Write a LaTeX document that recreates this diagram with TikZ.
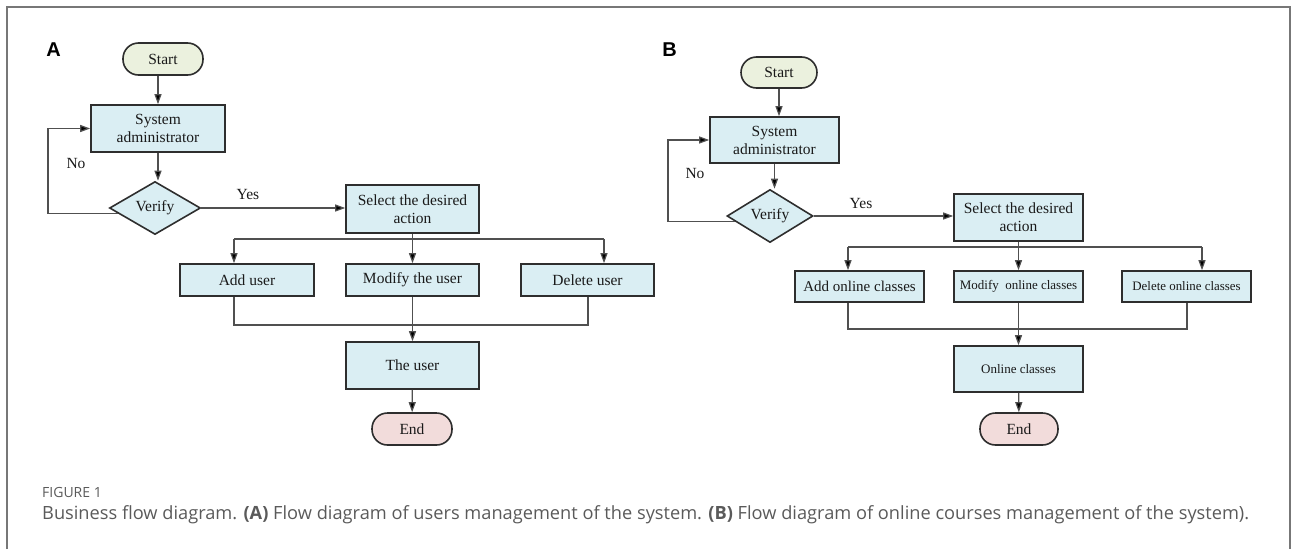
\documentclass[tikz,border=0pt]{standalone}
\usepackage{fontspec}
\setmainfont{Liberation Serif}
\newfontfamily\capfont{Open Sans}
\newfontfamily\lblfont{Liberation Sans}
\usetikzlibrary{arrows.meta,shapes.geometric,calc}
\definecolor{boxfill}{HTML}{DAEEF3}
\definecolor{startfill}{HTML}{EBF1DE}
\definecolor{endfill}{HTML}{F2DCDB}
\definecolor{edge}{HTML}{2E2E2E}
\definecolor{wire}{HTML}{505050}
\definecolor{capgray}{HTML}{5A5A5A}
\definecolor{framegray}{HTML}{777777}
\tikzset{
  base/.style={draw=edge, line width=1.6pt, inner sep=0pt, text=black!90,
    font=\fontsize{15.5}{18}\selectfont, align=center},
  procbox/.style={base, rectangle, fill=boxfill},
  termbox/.style={base, rectangle, rounded corners=15.5pt, minimum width=80pt, minimum height=32pt},
  decbox/.style={base, diamond, fill=boxfill},
  wireline/.style={draw=wire, line width=1.2pt},
  conn/.style={wireline, -{Triangle[length=10pt,width=7pt,fill=black]}},
  lbl/.style={font=\fontsize{15.5}{18}\selectfont, text=black!90, inner sep=0pt},
  panel/.style={font=\lblfont\bfseries\fontsize{20}{20}\selectfont, inner sep=0pt},
}
\begin{document}
\begin{tikzpicture}[x=1pt,y=-1pt]
\useasboundingbox (0,0) rectangle (1293,549);
\draw[framegray, line width=1.2pt] (7,549) -- (7,7) -- (1290,7) -- (1290,549);

% ---------- Panel A ----------
\node[panel] (pA) at (53.5,49.5) {A};
\node[termbox, fill=startfill] (startA) at (163,59) {Start};
\node[procbox, minimum width=134pt, minimum height=47pt] (adminA) at (158,128.5) {System\\administrator};
\node[decbox, minimum width=91pt, minimum height=47pt] (verifyA) at (155,208) {Verify};
\node[procbox, minimum width=133pt, minimum height=48pt] (selectA) at (412.5,209) {Select the desired\\action};
\node[procbox, minimum width=134pt, minimum height=32pt] (addA) at (247,280) {Add user};
\node[procbox, minimum width=133pt, minimum height=32pt] (modA) at (412.5,280) {Modify the user};
\node[procbox, minimum width=133pt, minimum height=32pt] (delA) at (587.5,280) {Delete user};
\node[procbox, minimum width=133pt, minimum height=47pt] (userA) at (412.5,365.5) {The user};
\node[termbox, fill=endfill] (endA) at (412,429) {End};
\node[lbl] (yesA) at (248,194) {Yes};
\node[lbl] (noA) at (76,163) {No};

\coordinate (loopA) at (48,128.5);
\coordinate (brAl) at (234,239);
\coordinate (brAr) at (604,239);
\coordinate (mgAl) at (234,325);
\coordinate (mgAr) at (588,325);

\draw[conn] (adminA.north |- startA.south) -- (adminA.north);
\draw[conn] (adminA.south) -- (adminA.south |- verifyA.north);
\draw[conn] (verifyA.east) -- (verifyA.east -| selectA.west);
\draw[conn] ($(verifyA.west)!0.2!(verifyA.south)$) -| (loopA) -- (adminA.west);
\draw[wireline] (brAl) -- (brAr);
\draw[conn] (selectA) -- (modA);
\draw[conn] (brAl) -- (brAl |- addA.north);
\draw[conn] (brAr) -- (brAr |- delA.north);
\draw[wireline] (mgAl |- addA.south) -- (mgAl) -- (mgAr) -- (mgAr |- delA.south);
\draw[conn] (modA) -- (userA);
\draw[conn] (userA) -- (endA);

% ---------- Panel B ----------
\node[panel] (pB) at (669.5,49.5) {B};
\node[termbox, fill=startfill, minimum width=76pt, minimum height=31pt] (startB) at (779,72.5) {Start};
\node[procbox, minimum width=129pt, minimum height=46pt] (adminB) at (774.5,140) {System\\administrator};
\node[decbox, minimum width=86pt, minimum height=46pt] (verifyB) at (770,216) {Verify};
\node[procbox, minimum width=129pt, minimum height=47pt] (selectB) at (1018.5,217.5) {Select the desired\\action};
\node[procbox, minimum width=129pt, minimum height=31pt, font=\fontsize{15}{18}\selectfont] (addB) at (859.5,286.5) {Add online classes};
\node[procbox, minimum width=129pt, minimum height=31pt, font=\fontsize{13}{16}\selectfont] (modB) at (1018.5,286.5) {Modify\ \ online classes};
\node[procbox, minimum width=129pt, minimum height=31pt, font=\fontsize{12.9}{16}\selectfont] (delB) at (1186.5,286.5) {Delete online classes};
\node[procbox, minimum width=129pt, minimum height=46pt, font=\fontsize{13}{16}\selectfont] (onlineB) at (1018.5,369) {Online classes};
\node[termbox, fill=endfill, minimum width=78pt] (endB) at (1019,429) {End};
\node[lbl] (yesB) at (861,203) {Yes};
\node[lbl] (noB) at (695,173) {No};

\coordinate (loopB) at (668,140);
\coordinate (brBl) at (848,247);
\coordinate (brBr) at (1202,247);
\coordinate (mgBl) at (848,329);
\coordinate (mgBr) at (1187,329);

\draw[conn] (startB.south) -- (startB.south |- adminB.north);
\draw[conn] (adminB.south) -- (adminB.south |- verifyB.north);
\draw[conn] (verifyB.east) -- (verifyB.east -| selectB.west);
\draw[conn] ($(verifyB.west)!0.2!(verifyB.south)$) -| (loopB) -- (adminB.west);
\draw[wireline] (brBl) -- (brBr);
\draw[conn] (selectB) -- (modB);
\draw[conn] (brBl) -- (brBl |- addB.north);
\draw[conn] (brBr) -- (brBr |- delB.north);
\draw[wireline] (mgBl |- addB.south) -- (mgBl) -- (mgBr) -- (mgBr |- delB.south);
\draw[conn] (modB) -- (onlineB);
\draw[conn] (onlineB) -- (endB);

% ---------- Caption ----------
\node[anchor=base west, inner sep=0pt, text=capgray] (fig) at (42,497)
  {\capfont\fontsize{14}{14}\selectfont FIGURE 1};
\node[anchor=base west, inner sep=0pt, text=capgray] (cap) at (42,519)
  {\resizebox{1207pt}{!}{\capfont Business flow diagram. {\bfseries (A)} Flow diagram of users management of the system. {\bfseries (B)} Flow diagram of online courses management of the system).}};
\end{tikzpicture}
\end{document}
